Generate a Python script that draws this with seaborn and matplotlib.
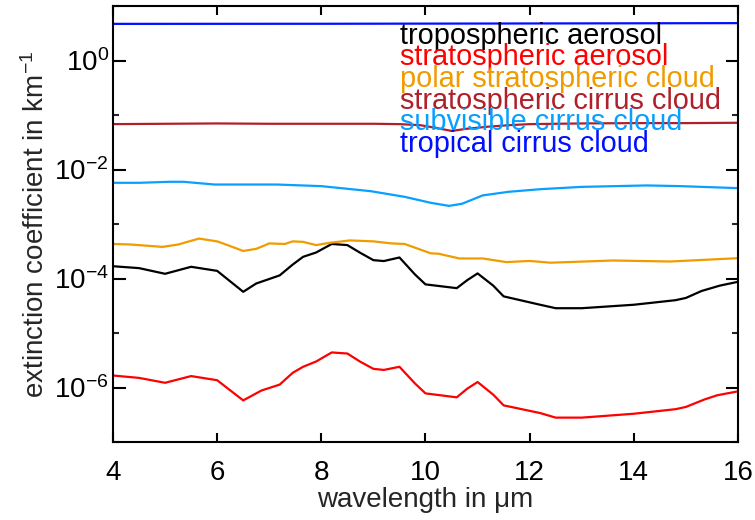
import numpy as np
import pandas as pd
import matplotlib
matplotlib.use("Agg")
import matplotlib.pyplot as plt
import seaborn as sns

# wavelength grids (micrometres) and extinction coefficients (1/km)
trop_x = [4.0, 4.5, 5.0, 5.5, 6.0, 6.5, 6.75, 7.2, 7.45, 7.65, 7.9, 8.2, 8.5, 8.75,
          9.0, 9.2, 9.5, 9.8, 10.0, 10.6, 10.8, 11.0, 11.3, 11.5, 12.2, 12.5, 13.0,
          14.0, 14.8, 15.0, 15.3, 15.65, 16.0]
trop_v = [1.68e-4, 1.55e-4, 1.22e-4, 1.64e-4, 1.38e-4, 5.7e-5, 8.1e-5, 1.14e-4,
          1.8e-4, 2.5e-4, 3.0e-4, 4.3e-4, 4.1e-4, 2.95e-4, 2.17e-4, 2.09e-4, 2.43e-4,
          1.18e-4, 7.8e-5, 6.65e-5, 9.3e-5, 1.24e-4, 7.4e-5, 4.7e-5, 3.3e-5, 2.85e-5,
          2.85e-5, 3.3e-5, 4.0e-5, 4.4e-5, 5.9e-5, 7.4e-5, 8.7e-5]

strat_x = [4.0, 4.5, 5.0, 5.5, 6.0, 6.5, 6.85, 7.2, 7.45, 7.65, 7.9, 8.2, 8.5, 8.75,
           9.0, 9.2, 9.5, 9.8, 10.0, 10.6, 10.8, 11.0, 11.3, 11.5, 12.2, 12.5, 13.0,
           14.0, 14.8, 15.0, 15.35, 15.6, 16.0]
strat_v = [1.66e-6, 1.5e-6, 1.22e-6, 1.62e-6, 1.36e-6, 5.8e-7, 8.8e-7, 1.13e-6,
           1.86e-6, 2.4e-6, 3.0e-6, 4.4e-6, 4.2e-6, 2.96e-6, 2.2e-6, 2.1e-6, 2.4e-6,
           1.18e-6, 7.8e-7, 6.6e-7, 9.5e-7, 1.26e-6, 7.4e-7, 4.7e-7, 3.4e-7, 2.8e-7,
           2.8e-7, 3.3e-7, 4.0e-7, 4.4e-7, 6.0e-7, 7.2e-7, 8.5e-7]

psc_x = [4.0, 4.35, 4.95, 5.25, 5.65, 6.0, 6.2, 6.5, 6.75, 7.0, 7.3, 7.45, 7.65,
         7.9, 8.15, 8.55, 9.0, 9.35, 9.6, 10.1, 10.25, 10.65, 11.1, 11.55, 12.0,
         12.4, 13.6, 14.7, 16.0]
psc_v = [4.3e-4, 4.2e-4, 3.8e-4, 4.2e-4, 5.4e-4, 4.8e-4, 4.1e-4, 3.2e-4, 3.5e-4,
         4.4e-4, 4.3e-4, 4.8e-4, 4.7e-4, 4.1e-4, 4.5e-4, 5.0e-4, 4.8e-4, 4.4e-4,
         4.3e-4, 2.9e-4, 2.85e-4, 2.33e-4, 2.33e-4, 2.0e-4, 2.1e-4, 1.95e-4,
         2.14e-4, 2.05e-4, 2.36e-4]

scc_x = [4.0, 5.0, 6.0, 7.0, 8.0, 9.0, 9.5, 9.9, 10.2, 10.5, 10.8, 11.2, 11.6,
         12.0, 13.0, 14.0, 15.0, 16.0]
scc_v = [0.068, 0.069, 0.070, 0.069, 0.069, 0.069, 0.068, 0.065, 0.058, 0.051,
         0.056, 0.061, 0.065, 0.068, 0.070, 0.071, 0.071, 0.072]

svc_x = [4.0, 4.5, 5.1, 5.35, 5.95, 7.15, 8.0, 8.95, 9.6, 10.1, 10.45, 10.7, 11.1,
         11.6, 12.2, 13.0, 14.25, 14.9, 16.0]
svc_v = [5.7e-3, 5.7e-3, 5.95e-3, 5.95e-3, 5.3e-3, 5.3e-3, 4.95e-3, 4.0e-3,
         3.15e-3, 2.45e-3, 2.15e-3, 2.35e-3, 3.35e-3, 3.9e-3, 4.35e-3, 4.8e-3,
         5.1e-3, 4.95e-3, 4.55e-3]

tcc_x = [4.0, 8.0, 12.0, 16.0]
tcc_v = [4.7, 4.72, 4.78, 4.85]

labels = ["tropospheric aerosol", "stratospheric aerosol",
          "polar stratospheric cloud", "stratospheric cirrus cloud",
          "subvisible cirrus cloud", "tropical cirrus cloud"]
colors = ["#000000", "#FF0000", "#F09B00", "#B0202A", "#08A0FF", "#0010FF"]

series = [(trop_x, trop_v), (strat_x, strat_v), (psc_x, psc_v),
          (scc_x, scc_v), (svc_x, svc_v), (tcc_x, tcc_v)]
frames = [pd.DataFrame({"wavelength": x, "extinction": v, "type": lab})
          for (x, v), lab in zip(series, labels)]
df = pd.concat(frames, ignore_index=True)

sns.set_style("ticks")
plt.rcParams["font.family"] = ["Liberation Sans", "DejaVu Sans"]
plt.rcParams["mathtext.fontset"] = "custom"
plt.rcParams["mathtext.rm"] = "Liberation Sans"
plt.rcParams["mathtext.it"] = "Liberation Sans:italic"
plt.rcParams["mathtext.bf"] = "Liberation Sans:bold"

fig = plt.figure(figsize=(7.55, 5.2), dpi=100)
ax = fig.add_axes([113 / 755, 1 - 442 / 520, 625 / 755, 436 / 520])

sns.lineplot(data=df, x="wavelength", y="extinction", hue="type",
             hue_order=labels, palette=dict(zip(labels, colors)),
             estimator=None, sort=False, linewidth=1.6, legend=False, ax=ax)

ax.set_yscale("log")
ax.set_xlim(4, 16)
ax.set_ylim(1e-7, 1e1)

ax.set_xticks([4, 6, 8, 10, 12, 14, 16])
ax.set_xticklabels(["4", "6", "8", "10", "12", "14", "16"])
major_y = [1e-6, 1e-4, 1e-2, 1e0]
ax.set_yticks(major_y)
ax.set_yticklabels([r"$\mathregular{10^{-6}}$", r"$\mathregular{10^{-4}}$",
                    r"$\mathregular{10^{-2}}$", r"$\mathregular{10^{0}}$"])
ax.set_yticks([1e-7, 1e-5, 1e-3, 1e-1, 1e1], minor=True)
ax.set_yticklabels([], minor=True)
ax.xaxis.set_minor_locator(matplotlib.ticker.NullLocator())

for sp in ax.spines.values():
    sp.set_visible(True)
    sp.set_linewidth(1.5)
    sp.set_color("black")

ax.tick_params(axis="x", which="major", direction="in", length=6.5, width=1.5,
               top=True, bottom=True, labelsize=20, pad=13, colors="black")
ax.tick_params(axis="y", which="major", direction="in", length=9, width=1.5,
               left=True, right=True, labelsize=20, pad=3, colors="black")
ax.tick_params(axis="y", which="minor", direction="in", length=4, width=1.5,
               left=True, right=True)

ax.set_xlabel("wavelength in μm", fontsize=20, labelpad=1)
ax.set_ylabel(r"extinction coefficient in km$^{\mathregular{-1}}$", fontsize=20,
              labelpad=3)

# colour-coded key in the upper right
y0 = (442 - 43.5) / 436
dy = 21.7 / 436
for i, (lab, col) in enumerate(zip(labels, colors)):
    ax.text((400 - 113) / 625, y0 - i * dy, lab, color=col, fontsize=20.8,
            transform=ax.transAxes, ha="left", va="baseline", zorder=5)

fig.savefig("out.png", dpi=100)
